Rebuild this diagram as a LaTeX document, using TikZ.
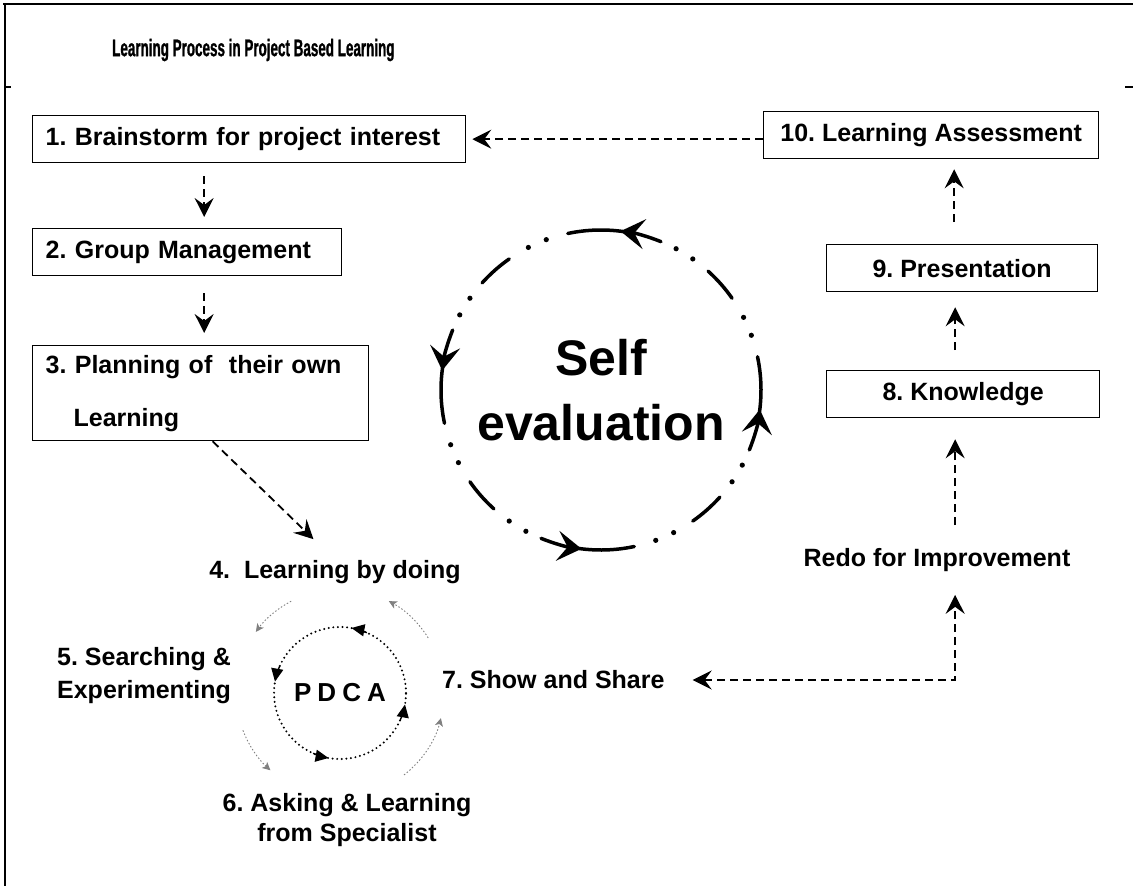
\documentclass[tikz,border=0pt]{standalone}
\usepackage{fontspec}
\setmainfont{Liberation Sans}
\newfontfamily\titlefont{Liberation Sans}[FakeStretch=0.56, FakeBold=1]
\usetikzlibrary{arrows.meta, calc}
\frenchspacing

\tikzset{
  headtip/.tip={Stealth[length=19pt, width=19pt, inset=7pt]},
  ringtip/.tip={Stealth[length=24pt, width=30pt, inset=10pt]}
}

\begin{document}
\begin{tikzpicture}[
      x=1pt, y=1pt,
      every node/.style={font=\fontsize{25}{30}\selectfont\bfseries, inner sep=0pt},
      stepbox/.style={rectangle, draw, line width=1.3pt, minimum height=47pt, anchor=north west, inner xsep=13pt},
      flow/.style={-headtip, line width=1.8pt, dash pattern=on 8pt off 5pt},
      ring/.style={line width=3.5pt, line cap=round},
      ringhead/.style={ring, -ringtip},
      pdcahead/.style={-{Triangle[length=13pt, width=12pt]}, line width=1.4pt},
      minor/.style={-{Stealth[length=8pt, width=8pt, inset=2pt]}, gray, line width=0.9pt, dash pattern=on 1.5pt off 2pt}
    ]

    \useasboundingbox (0,0) rectangle (1133,-886);

    % frame
    \draw[line width=2.5pt] (3,-4) -- (1133,-4);
    \draw[line width=2.5pt] (5,-4) -- (5,-886);
    \draw[line width=2pt] (5,-87) -- (11,-87);
    \draw[line width=2pt] (1125,-87) -- (1133,-87);

    \node[anchor=west, font=\titlefont\fontsize{24}{28}\selectfont\bfseries] (title) at (112,-50) {Learning Process in Project Based Learning};

    % left column
    \node[stepbox, text width=407pt, align=left] (b1) at (32,-115) {1. Brainstorm for project interest};
    \node[stepbox, text width=283pt, align=left] (b2) at (32,-228) {2. Group Management};
    \node[stepbox, text width=310pt, minimum height=95pt, align=left] (b3) at (32,-345) {3. Planning of\ \ their own\\[23pt]\hspace*{28pt}Learning};

    % right column
    \node[stepbox, minimum width=335pt] (b10) at (763,-111) {10. Learning Assessment};
    \node[stepbox, minimum width=271pt] (b9) at (826,-244) {9. Presentation};
    \node[stepbox, minimum width=273pt] (b8) at (826,-370) {8. Knowledge};
    \node (redo) at (937,-560) {Redo for Improvement};

    % self evaluation
    \node[align=center, font=\fontsize{50}{65}\selectfont\bfseries] (selfeval) at (601,-390) {Self\\evaluation};
    \foreach \b in {0,90,180,270} {
      \draw[ringhead] ($(selfeval)+(\b-22:160pt)$) arc[start angle=\b-22, end angle=\b-7, radius=160pt];
      \draw[ring] ($(selfeval)+(\b-9:160pt)$) arc[start angle=\b-9, end angle=\b+12, radius=160pt];
      \draw[ring] ($(selfeval)+(\b+35:160pt)$) arc[start angle=\b+35, end angle=\b+48, radius=160pt];
      \foreach \d in {20,27,55,62}
        \fill ($(selfeval)+(\b+\d:160pt)$) circle[radius=2.6pt];
    }

    % PDCA cycle
    \node (l4) at (335,-572) {4.\ \ Learning by doing};
    \node[align=left] (l5) at (144,-676) {5. Searching \&\\[3pt]Experimenting};
    \node[align=center] (l6) at (347,-820) {6. Asking \& Learning\\from Specialist};
    \node[anchor=west] (l7) at (442,-680) {7. Show and Share};
    \node[circle, minimum size=132pt, draw, line width=2.2pt, line cap=round, dash pattern=on 0pt off 4.6pt,
          font=\fontsize{26}{30}\selectfont\bfseries] (pdca) at (340,-693) {P\hspace{6pt}D\hspace{6pt}C\hspace{6pt}A};
    \foreach \a [evaluate=\a as \s using \a-14] in {80,170,260,350}
      \draw[pdcahead] ($(pdca)+(\s:66pt)$) arc[start angle=\s, end angle=\a, radius=66pt];
    \foreach \s/\e in {118/144, 201/228, 308/346, 32/62}
      \draw[minor] ($(pdca)+(\s:104pt)$) arc[start angle=\s, end angle=\e, radius=104pt];

    % connectors
    \draw[flow] (b10.west |- b1.east) -- ([xshift=6pt]b1.east);
    \draw[flow, shorten <=13pt, shorten >=11pt] ([xshift=-45pt]b1.south) -- ([xshift=-45pt]b1.south |- b2.north);
    \draw[flow, shorten <=17pt, shorten >=12pt] ([xshift=-45pt]b1.south |- b2.south) -- ([xshift=-45pt]b1.south |- b3.north);
    \draw[flow, shorten >=30pt] ([xshift=12pt]b3.south) -- (l4.north);
    \draw[flow, shorten <=22pt, shorten >=10pt] ([xshift=-8pt]b9.north) -- ([xshift=-8pt]b9.north |- b10.south);
    \draw[flow, shorten <=20pt, shorten >=15pt] ([xshift=-8pt]b8.north) -- ([xshift=-8pt]b8.north |- b9.south);
    \draw[flow, shorten <=23pt, shorten >=21pt] ([xshift=-8pt]b8.south |- redo.north) -- ([xshift=-8pt]b8.south);
    \draw[flow, headtip-headtip] ([xshift=28pt]l7.east) -| ($(b8.south |- redo.south)+(-8pt,-23pt)$);
  \end{tikzpicture}
\end{document}
